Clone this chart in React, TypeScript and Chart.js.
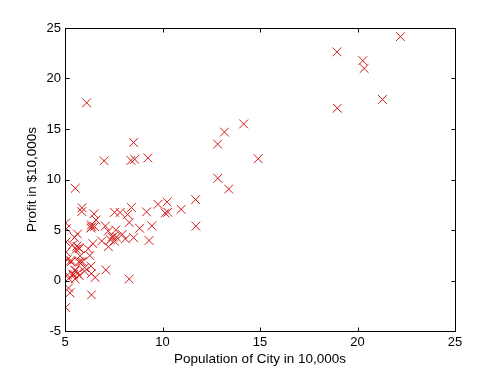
import React, { useEffect, useRef } from "react";
import { Chart, registerables } from "chart.js";

Chart.register(...registerables);

const population: number[] = [
  6.1101, 5.5277, 8.5186, 7.0032, 5.8598, 8.3829, 7.4764, 8.5781, 6.4862, 5.0546,
  5.7107, 14.164, 5.734, 8.4084, 5.6407, 5.3794, 6.3654, 5.1301, 6.4296, 7.0708,
  6.1891, 20.27, 5.4901, 6.3261, 5.5649, 18.945, 12.828, 10.957, 13.176, 22.203,
  5.2524, 6.5894, 9.2482, 5.8918, 8.2111, 7.9334, 8.0959, 5.6063, 12.836, 6.3534,
  5.4069, 6.8825, 11.708, 5.7737, 7.8247, 7.0931, 5.0702, 5.8014, 11.7, 5.5416,
  7.5402, 5.3077, 7.4239, 7.6031, 6.3328, 6.3589, 6.2742, 5.6397, 9.3102, 9.4536,
  8.8254, 5.1793, 21.279, 14.908, 18.959, 7.2182, 8.2951, 10.236, 5.4994, 20.341,
  10.136, 7.3345, 6.0062, 7.2259, 5.0269, 6.5479, 7.5386, 5.0365, 10.274, 5.1077,
  5.7292, 5.1884, 6.3557, 9.7687, 6.5159, 8.5172, 9.1802, 6.002, 5.5204, 5.0594,
  5.7077, 7.6366, 5.8707, 5.3054, 8.2934, 13.394, 5.4369,
];

const profit: number[] = [
  17.592, 9.1302, 13.662, 11.854, 6.8233, 11.886, 4.3483, 12, 6.5987, 3.8166,
  3.2522, 15.505, 3.1551, 7.2258, 0.71618, 3.5129, 5.3048, 0.56077, 3.6518, 5.3893,
  3.1386, 21.767, 4.263, 5.1875, 3.0825, 22.638, 13.501, 7.0467, 14.692, 24.147,
  -1.22, 5.9966, 12.134, 1.8495, 6.5426, 4.5623, 4.1164, 3.3928, 10.117, 5.4974,
  0.55657, 3.9115, 5.3854, 2.4406, 6.7318, 1.0463, 5.1337, 1.844, 8.0043, 1.0179,
  6.7504, 1.8396, 4.2885, 4.9981, 1.4233, -1.4211, 2.4756, 4.6042, 3.9624, 5.4141,
  5.1694, -0.74279, 17.929, 12.054, 17.054, 4.8852, 5.7442, 7.7754, 1.0173, 20.992,
  6.6799, 4.0259, 1.2784, 3.3411, -2.6807, 0.29678, 3.8845, 5.7014, 6.7526, 2.0576,
  0.47953, 0.20421, 0.67861, 7.5435, 5.3436, 4.2415, 6.7981, 0.92695, 0.152, 2.8214,
  1.8451, 4.2959, 7.2029, 1.9869, 0.14454, 9.0551, 0.61705,
];

const xTicks: number[] = [5, 10, 15, 20, 25];
const yTicks: number[] = [-5, 0, 5, 10, 15, 20, 25];

const xTitle = "Population of City in 10,000s";
const yTitle = "Profit in $10,000s";

const FONT = "Arial, 'Liberation Sans', Helvetica, sans-serif";

const boxPlugin = {
  id: "matlabBox",
  afterDraw(chart: any) {
    const { ctx, chartArea } = chart;
    const { left, right, top, bottom } = chartArea;
    const xs = chart.scales.x;
    const ys = chart.scales.y;
    const tl = 4;
    ctx.save();
    ctx.strokeStyle = "#000";
    ctx.lineWidth = 1;
    ctx.beginPath();
    const L = Math.round(left) + 0.5;
    const R = Math.round(right) + 0.5;
    const T = Math.round(top) + 0.5;
    const B = Math.round(bottom) + 0.5;
    ctx.rect(L, T, R - L, B - T);
    xTicks.forEach((v) => {
      const px = Math.round(xs.getPixelForValue(v)) + 0.5;
      ctx.moveTo(px, B);
      ctx.lineTo(px, B - tl);
      ctx.moveTo(px, T);
      ctx.lineTo(px, T + tl);
    });
    yTicks.forEach((v) => {
      const py = Math.round(ys.getPixelForValue(v)) + 0.5;
      ctx.moveTo(L, py);
      ctx.lineTo(L + tl, py);
      ctx.moveTo(R, py);
      ctx.lineTo(R - tl, py);
    });
    ctx.stroke();
    ctx.restore();
  },
};

export default function App() {
  const ref = useRef<HTMLCanvasElement | null>(null);

  useEffect(() => {
    document.body.style.margin = "0";
    const canvas = ref.current;
    if (!canvas) return;
    const points = population.map((x, i) => ({ x, y: profit[i] }));
    const chart = new Chart(canvas, {
      type: "scatter",
      data: {
        datasets: [
          {
            data: points,
            pointStyle: "crossRot",
            radius: 6.2,
            hoverRadius: 6.2,
            borderColor: "#d41a1a",
            backgroundColor: "#d41a1a",
            borderWidth: 1,
          },
        ],
      },
      options: {
        animation: false,
        responsive: false,
        maintainAspectRatio: false,
        devicePixelRatio: 1,
        events: [],
        layout: { padding: { top: 28, right: 47, left: 0, bottom: 0 } },
        plugins: {
          legend: { display: false },
          tooltip: { enabled: false },
          title: { display: false },
        },
        scales: {
          x: {
            type: "linear",
            min: 5,
            max: 25,
            afterBuildTicks: (scale: any) => {
              scale.ticks = xTicks.map((v) => ({ value: v }));
            },
            afterFit: (scale: any) => {
              scale.height = 42;
            },
            grid: { display: false, drawTicks: false },
            border: { display: false },
            ticks: {
              color: "#000",
              padding: 4,
              maxRotation: 0,
              font: { family: FONT, size: 13 },
            },
            title: {
              display: true,
              text: xTitle,
              color: "#000",
              font: { family: FONT, size: 13.5 },
              padding: { top: 0, bottom: 6 },
            },
          },
          y: {
            type: "linear",
            min: -5,
            max: 25,
            afterBuildTicks: (scale: any) => {
              scale.ticks = yTicks.map((v) => ({ value: v }));
            },
            afterFit: (scale: any) => {
              scale.width = 65;
            },
            grid: { display: false, drawTicks: false },
            border: { display: false },
            ticks: {
              color: "#000",
              padding: 4,
              font: { family: FONT, size: 13 },
            },
            title: {
              display: true,
              text: yTitle,
              color: "#000",
              font: { family: FONT, size: 13.5 },
              padding: { top: 24, bottom: 0 },
            },
          },
        },
      },
      plugins: [boxPlugin],
    });
    return () => chart.destroy();
  }, []);

  return (
    <div style={{ width: 502, height: 373, background: "#fff" }}>
      <canvas ref={ref} width={502} height={373} style={{ display: "block" }} />
    </div>
  );
}
